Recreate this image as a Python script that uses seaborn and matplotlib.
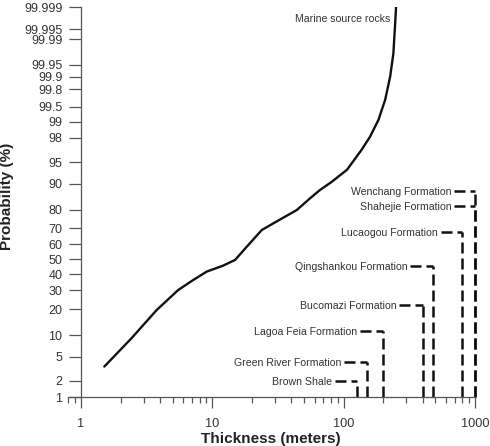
import math
import statistics
import numpy as np
import pandas as pd
import matplotlib
matplotlib.use("Agg")
import matplotlib.pyplot as plt
import seaborn as sns

# ---------------- data ----------------
curve_thickness = [1.505, 2.42, 3.77, 5.51, 7.17, 9.06, 12.1, 14.9, 18.3, 23.8, 29.2,
                   44.0, 55.5, 66.1, 80.5, 106, 137, 159, 184, 207, 226, 239, 246, 250.6]
curve_prob = [3.5, 9.1, 19.6, 30.3, 36.4, 41.8, 45.8, 49.6, 58.5, 69.0, 72.9,
              79.8, 84.9, 87.96, 90.4, 93.5, 96.8, 98.1, 99.08, 99.65, 99.90, 99.975, 99.996, 99.999]
curve_label = "Marine source rocks"

formations = ["Wenchang Formation", "Shahejie Formation", "Lucaogou Formation",
              "Qingshankou Formation", "Bucomazi Formation", "Lagoa Feia Formation",
              "Green River Formation", "Brown Shale"]
formation_thickness = [1000, 1000, 790, 480, 400, 200, 150, 126]
formation_level = [87.6, 81.8, 68.0, 45.8, 22.0, 11.3, 4.1, 2.0]

y_ticks = [1, 2, 5, 10, 20, 30, 40, 50, 60, 70, 80, 90, 95, 98, 99, 99.5, 99.8,
           99.9, 99.95, 99.99, 99.995, 99.999]
y_ticklabels = ["1", "2", "5", "10", "20", "30", "40", "50", "60", "70", "80", "90",
                "95", "98", "99", "99.5", "99.8", "99.9", "99.95", "99.99", "99.995", "99.999"]
x_ticks = [1, 10, 100, 1000]
x_ticklabels = ["1", "10", "100", "1000"]

# layout: right end of each formation label (in thickness units)
label_x_end = [666, 666, 523, 308, 254, 126.5, 96.7, 81.6]
curve_label_pos = (226, 99.9977)

# ---------------- style ----------------
sns.set_style("ticks")
plt.rcParams["font.family"] = ["Liberation Sans", "DejaVu Sans"]
TXT = "#333333"
AX = "#555555"

fig = plt.figure(figsize=(4.9, 4.46), dpi=100)
ax = fig.add_axes([68 / 490, 1 - 397 / 446, (475 - 68) / 490, (397 - 7) / 446])

_nd = statistics.NormalDist()
_inv = np.vectorize(_nd.inv_cdf, otypes=[float])
_erf = np.vectorize(math.erf, otypes=[float])


def fwd(p):
    p = np.clip(np.asarray(p, dtype=float) / 100.0, 1e-12, 1 - 1e-12)
    if p.size == 0:
        return p
    return _inv(p)


def inv(z):
    z = np.asarray(z, dtype=float)
    if z.size == 0:
        return z
    return 50.0 * (1 + _erf(z / math.sqrt(2)))


ax.set_xscale("log")
ax.set_yscale("function", functions=(fwd, inv))

df = pd.DataFrame({"thickness": curve_thickness, "prob": curve_prob})
sns.lineplot(data=df, x="thickness", y="prob", ax=ax, color="#111111",
             linewidth=1.7, sort=False, estimator=None)

ax.set_xlim(0.796, 1000)
ax.set_ylim(1, 99.999)

# formation dashed leaders
dash = (0, (4.4, 2.0))
for name, xv, lev, xe in zip(formations, formation_thickness, formation_level, label_x_end):
    ax.plot([xv, xv], [1, lev], color="#111111", lw=1.8, linestyle=dash,
            dash_capstyle="butt", clip_on=False)
    ax.plot([xe * 1.045, xv], [lev, lev], color="#111111", lw=1.8, linestyle=dash,
            dash_capstyle="butt", clip_on=False)
    ax.text(xe, lev, name, ha="right", va="center_baseline", fontsize=7.6, color=TXT)

ax.text(curve_label_pos[0], curve_label_pos[1], curve_label, ha="right",
        va="center_baseline", fontsize=7.6, color=TXT)

# axes styling
sns.despine(ax=ax)
ax.spines["left"].set_position(("data", 1))
for s in ("left", "bottom"):
    ax.spines[s].set_color(AX)
    ax.spines[s].set_linewidth(0.9)

ax.set_yticks(y_ticks)
ax.set_yticklabels(y_ticklabels)
ax.yaxis.set_minor_locator(matplotlib.ticker.NullLocator())
ax.set_xticks(x_ticks)
ax.set_xticklabels(x_ticklabels)
ax.xaxis.set_minor_locator(matplotlib.ticker.LogLocator(base=10, subs=np.arange(2, 10)))
ax.xaxis.set_minor_formatter(matplotlib.ticker.NullFormatter())

ax.tick_params(axis="y", which="major", direction="out", length=8.5, width=0.9,
               color=AX, labelsize=9.0, labelcolor=TXT, pad=5)
ax.tick_params(axis="x", which="major", direction="out", length=8, width=0.9,
               color=AX, labelsize=9.2, labelcolor=TXT, pad=7)
ax.tick_params(axis="x", which="minor", direction="out", length=4.3, width=0.9, color=AX)

ax.set_xlabel("Thickness (meters)", fontsize=11, fontweight="bold", color="#222222")
ax.set_ylabel("Probability (%)", fontsize=11, fontweight="bold", color="#222222")
ax.xaxis.set_label_coords((271 - 68) / (475 - 68), -(432 - 397) / 390)
ax.yaxis.set_label_coords((14 - 68) / (475 - 68), (397 - 196) / 390)

fig.savefig("out.png", dpi=100)
